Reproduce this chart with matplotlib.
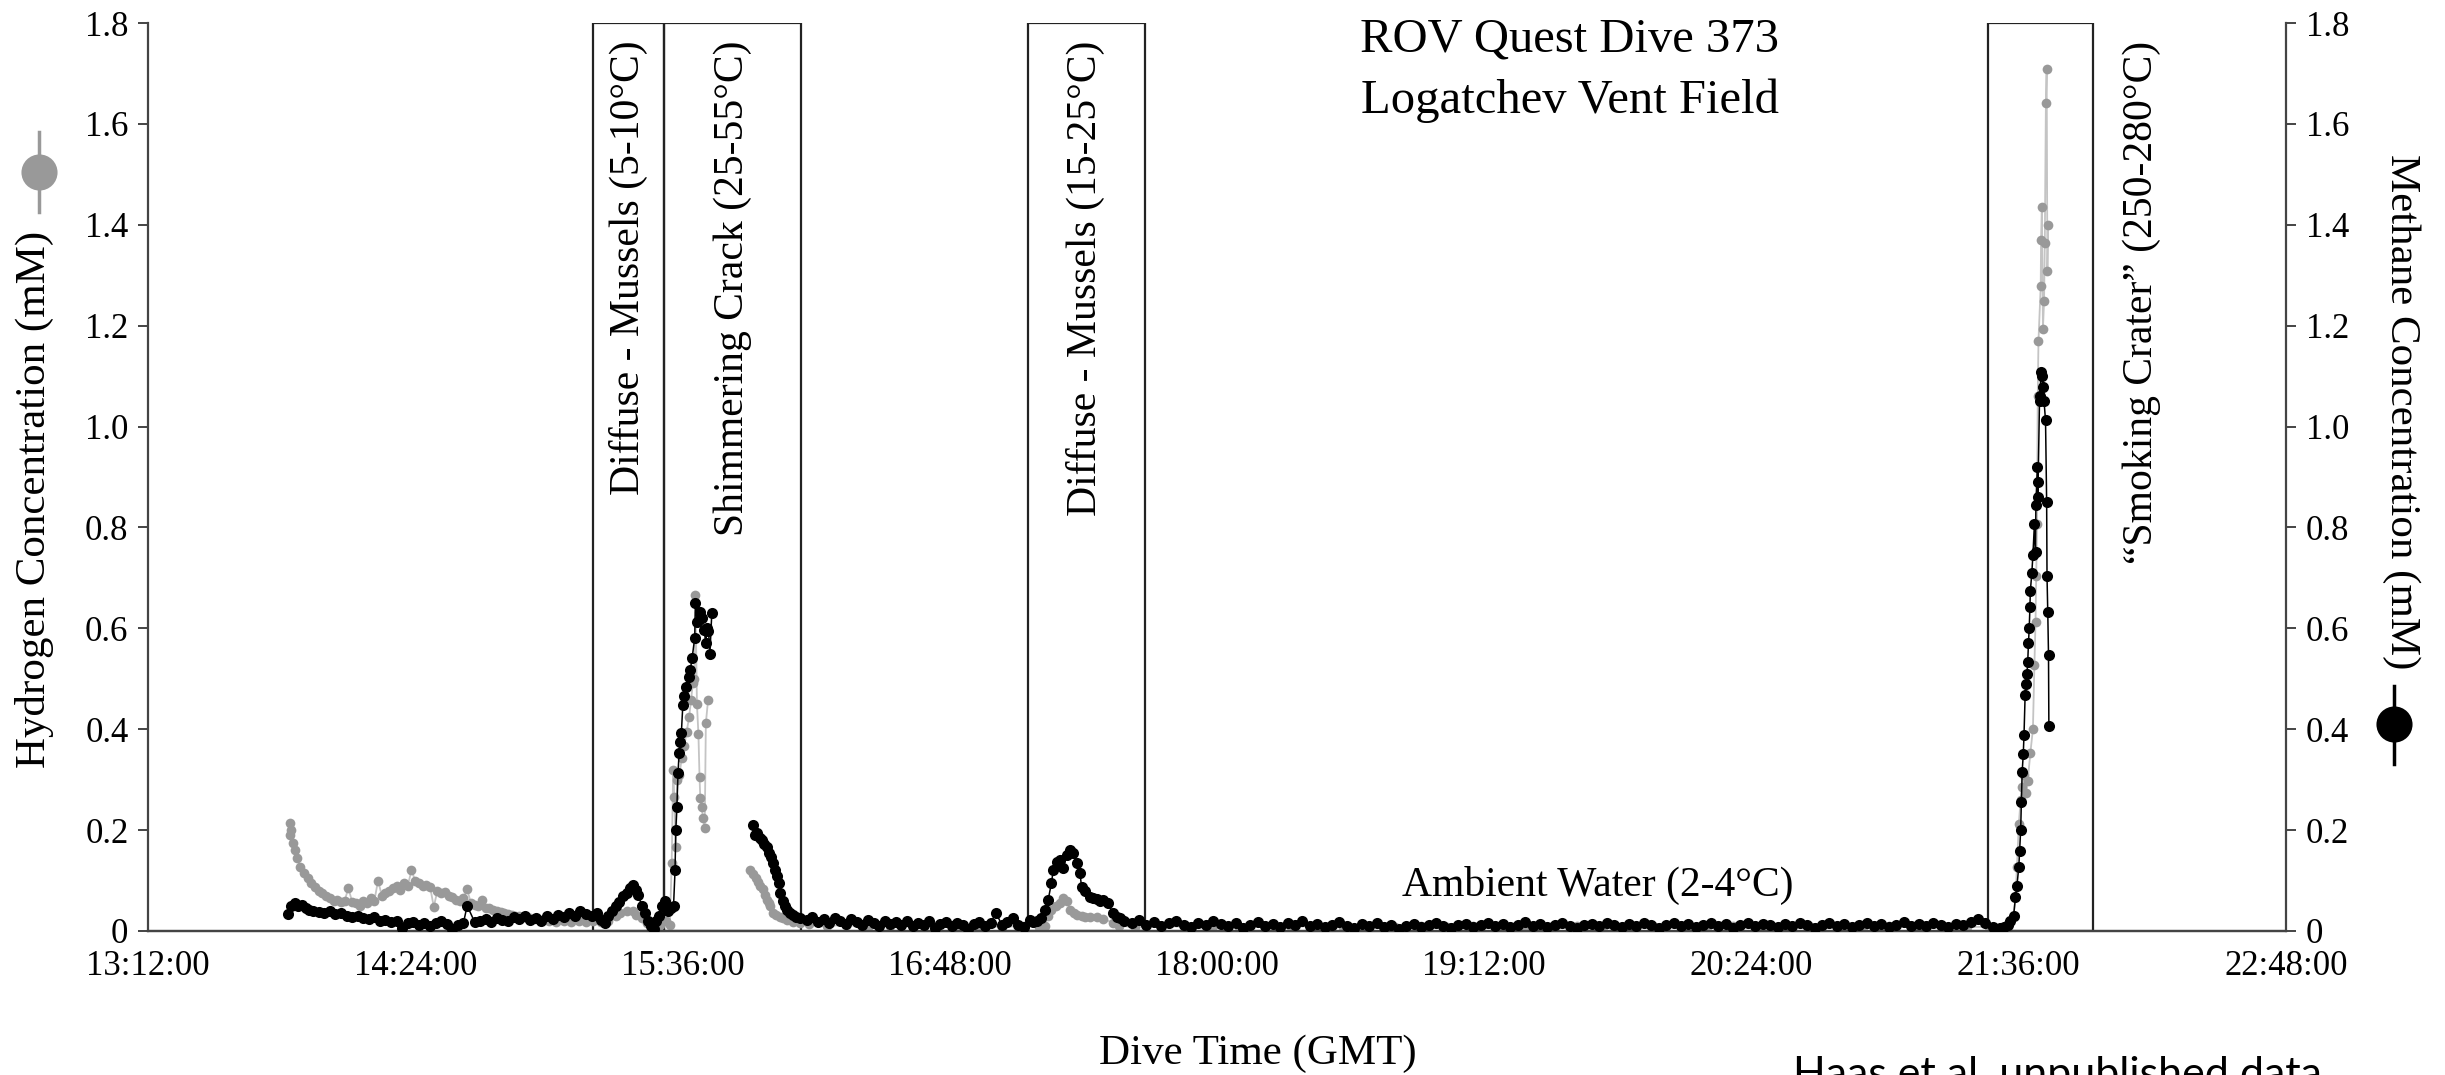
import numpy as np
import matplotlib.pyplot as plt
from matplotlib.patches import Rectangle
from matplotlib.lines import Line2D

plt.rcParams['font.family'] = ['Liberation Serif', 'DejaVu Serif']

# time in minutes after 13:00 GMT
tick_pos = [12, 84, 156, 228, 300, 372, 444, 516, 588]
tick_lbl = ['13:12:00', '14:24:00', '15:36:00', '16:48:00', '18:00:00',
            '19:12:00', '20:24:00', '21:36:00', '22:48:00']
y_ticks = [0, 0.2, 0.4, 0.6, 0.8, 1.0, 1.2, 1.4, 1.6, 1.8]
y_lbl = ['0', '0.2', '0.4', '0.6', '0.8', '1.0', '1.2', '1.4', '1.6', '1.8']

# sampled sites: (start, end, label)
zone_start = [132.0, 151.0, 249.0, 507.6]
zone_end = [151.0, 188.0, 280.5, 536.0]
zone_lbl = ['Diffuse - Mussels (5-10°C)', 'Shimmering Crack (25-55°C)',
            'Diffuse - Mussels (15-25°C)', '“Smoking Crater” (250-280°C)']
zone_lbl_x = [141.5, 169.5, 264.7, 549.2]

gap = np.nan  # no samples while the sensor was off

# hydrogen (grey, left axis)
h2_time = [50.2, 50.4, 50.6, 51.0, 51.5, 52.2, 53.0, 54.0, 55.0, 56.0, 57.0, 58.0, 59.0, 60.0,
           61.0, 62.0, 63.0, 64.0, 65.0, 66.0, 67.0, 68.0, 69.0, 70.0, 71.0, 72.0, 73.0, 74.0,
           75.0, 76.0, 77.0, 78.0, 79.0, 80.0, 81.0, 82.0, 83.0, 84.0, 85.0, 86.0, 87.0, 88.0,
           89.0, 90.0, 91.0, 92.0, 93.0, 94.0, 95.0, 96.0, 97.0, 98.0, 99.0, 100.0, 101.0, 102.0,
           103.0, 104.0, 105.0, 106.0, 107.0, 108.0, 109.0, 110.0, 111.0, 112.0, 113.0, 114.0,
           115.0, 116.0, 118.0, 120.0, 122.0, 124.0, 126.0, 128.0, 130.0, 132.0, 134.0, 136.0,
           138.0, 139.2, 141.0, 142.7, 143.5, 145.0, 146.5, 148.0, 150.0, 151.5, 152.6,
           153.1, 153.5, 153.8, 154.2, 154.6, 155.2, 155.8, 156.5, 157.1, 157.8, 158.3, 158.8,
           159.2, 159.5, 159.9, 160.3, 160.6, 160.8, 161.2, 161.5, 162.0, 162.3, 162.9, gap,
           174.2, 175.1, 175.7, 176.3, 177.0, 177.6, 178.2, 178.7, 179.2, 179.6, 180.4, 181.3,
           182.3, 183.2, 184.1, 185.8, 187.6,
           190, 195, 200, 206, 212, 218, 224, 230, 236, 242, 248, 252,
           253.6, 254.5, 255.4, 256.5, 257.7, 258.6, 259.5, 260.4, 261.5, 262.2, 263.5, 264.4,
           265.8, 267.6, 269.4, 272.0, 273.5,
           278, 285, 292, 299, 306, 313, 320, 327, 334, 341, 348, 355, 362, 369, 376, 383, 390,
           397, 404, 411, 418, 425, 432, 439, 446, 453, 460, 467, 474, 481, 488, 495, 502, 508,
           513.0, 514.6, 515.1, 515.5, 516.0, 516.5, 516.9, 517.4, 517.9, 518.4, 519.1, 519.8,
           520.2, 520.5, 520.7, 520.9, 521.1, 521.3, 521.9, 522.0, 522.2, 522.5, 522.8, 523.0,
           523.3, 523.5, 523.7, 523.9]
h2_mM = [0.19, 0.214, 0.2, 0.175, 0.16, 0.145, 0.127, 0.115, 0.105, 0.095, 0.087, 0.08, 0.075, 0.07,
         0.065, 0.06, 0.062, 0.058, 0.06, 0.085, 0.058, 0.055, 0.05, 0.06, 0.055, 0.065, 0.06, 0.1,
         0.07, 0.075, 0.08, 0.085, 0.09, 0.082, 0.095, 0.09, 0.12, 0.1, 0.095, 0.09, 0.092, 0.088,
         0.048, 0.08, 0.075, 0.078, 0.07, 0.068, 0.062, 0.06, 0.065, 0.083, 0.055, 0.052, 0.05, 0.062,
         0.045, 0.045, 0.042, 0.04, 0.038, 0.036, 0.034, 0.032, 0.03, 0.03, 0.028, 0.026,
         0.025, 0.024, 0.022, 0.02, 0.018, 0.02, 0.018, 0.02, 0.018, 0.02, 0.018, 0.02,
         0.03, 0.035, 0.04, 0.04, 0.032, 0.025, 0.015, 0.01, 0.012, 0.02, 0.012,
         0.135, 0.32, 0.266, 0.167, 0.3, 0.31, 0.343, 0.366, 0.394, 0.424, 0.458, 0.491,
         0.5, 0.667, 0.45, 0.39, 0.305, 0.264, 0.245, 0.224, 0.204, 0.412, 0.458, gap,
         0.121, 0.112, 0.104, 0.097, 0.09, 0.083, 0.072, 0.061, 0.055, 0.05, 0.035, 0.032,
         0.028, 0.025, 0.022, 0.018, 0.016,
         0.014, 0.01, 0.012, 0.008, 0.01, 0.008, 0.01, 0.008, 0.01, 0.008, 0.01, 0.008,
         0.01, 0.03, 0.042, 0.05, 0.055, 0.065, 0.06, 0.042, 0.035, 0.032, 0.03, 0.028,
         0.028, 0.028, 0.024, 0.016, 0.01,
         0.008, 0.01, 0.008, 0.01, 0.008, 0.01, 0.008, 0.01, 0.008, 0.01, 0.008, 0.01, 0.008,
         0.01, 0.008, 0.01, 0.008, 0.01, 0.008, 0.01, 0.008, 0.01, 0.008, 0.01, 0.008, 0.01,
         0.008, 0.01, 0.008, 0.01, 0.008, 0.01, 0.008, 0.008,
         0.01, 0.03, 0.067, 0.127, 0.212, 0.26, 0.285, 0.309, 0.273, 0.297, 0.352, 0.4,
         0.527, 0.612, 0.703, 0.806, 1.06, 1.17, 1.279, 1.37, 1.436, 1.194, 1.248, 1.364,
         1.642, 1.709, 1.309, 1.4]

# methane (black, right axis)
ch4_time = [49.8, 50.5, 51.5, 52.5, 53.5, 54.5, 55.5, 56.5, 58.0, 59.5, 61.0, 62.5, 64.0, 65.5,
            67.0, 68.5, 70.0, 71.5, 73.0, 74.5, 76.0, 77.5, 79.0, 80.5, 82.0, 83.5, 85.0, 86.5,
            88.0, 89.5, 91.0, 92.5, 94.0, 95.5, 97.0, 98.0, 100.0, 101.5, 103.0, 104.5, 106.0,
            107.5, 109.0, 110.5, 112.0, 113.5, 115.0, 116.5, 118.0, 119.5, 121.0, 122.5, 124.0,
            125.5, 127.0, 128.5, 130.0, 131.5, 133.0,
            134.0, 135.0, 136.0, 137.0, 138.0, 139.0, 140.0, 141.0, 142.0, 142.7, 143.5, 144.1,
            145.0, 145.8, 146.6, 147.4, 148.2, 149.0, 149.8, 150.6, 151.4, 152.2, 153.0, 153.6,
            154.0, 154.2, 154.5, 154.8, 155.1, 155.3, 155.7, 156.1, 156.5, 157.0, 157.7, 158.1,
            158.6, 159.3, 159.5, 160.0, 160.6, 161.2, 161.8, 162.3, 162.6, 163.0, 163.4, 163.9, gap,
            175.1, 175.6, 176.2, 176.9, 177.5, 178.1, 178.7, 179.3, 179.9, 180.4, 181.0, 181.5,
            182.0, 182.4, 183.0, 183.6, 184.1, 185.0, 185.8, 186.7, 187.6,
            189.5, 191, 192.5, 194, 195.5, 197, 198.5, 200, 201.5, 203, 204.5, 206, 207.5, 209,
            210.5, 212, 213.5, 215, 216.5, 218, 219.5, 221, 222.5, 224, 225.5, 227, 228.5, 230,
            231.5, 233, 234.5, 236, 237.5, 239, 240.5, 242, 243.5, 245, 246.5, 248,
            249.6, 250.5, 251.5, 252.5, 253.6, 254.5, 255.4, 255.9, 256.8, 257.7, 258.6, 259.5,
            260.4, 261.3, 262.2, 263.1, 263.5, 264.4, 265.8, 266.7, 267.6, 268.5, 269.4, 270.7,
            272.0, 273.0, 273.9,
            275, 277, 279, 281, 283, 285, 287, 289, 291, 293, 295, 297, 299, 301, 303, 305, 307,
            309, 311, 313, 315, 317, 319, 321, 323, 325, 327, 329, 331, 333, 335, 337, 339, 341,
            343, 345, 347, 349, 351, 353, 355, 357, 359, 361, 363, 365, 367, 369, 371, 373, 375,
            377, 379, 381, 383, 385, 387, 389, 391, 393, 395, 397, 399, 401, 403, 405, 407, 409,
            411, 413, 415, 417, 419, 421, 423, 425, 427, 429, 431, 433, 435, 437, 439, 441, 443,
            445, 447, 449, 451, 453, 455, 457, 459, 461, 463, 465, 467, 469, 471, 473, 475, 477,
            479, 481, 483, 485, 487, 489, 491, 493, 495, 497, 499, 501, 503, 505, 507, 509, 511,
            512,
            513.0, 513.7, 514.6, 515.1, 515.5, 516.0, 516.2, 516.5, 516.7, 516.9, 517.2, 517.4,
            517.7, 517.9, 518.2, 518.4, 518.6, 518.8, 519.0, 519.1, 519.5, 519.8, 520.2, 520.5,
            520.6, 521.0, 521.1, 521.2, 521.6, 521.8, 521.9, 522.3, 522.5, 522.8, 523.2, 523.5,
            523.6, 523.8, 524.0, 524.1]
ch4_mM = [0.034, 0.05, 0.055, 0.05, 0.052, 0.045, 0.042, 0.04, 0.038, 0.036, 0.04, 0.034, 0.035, 0.03,
          0.028, 0.03, 0.025, 0.024, 0.027, 0.02, 0.022, 0.018, 0.02, 0.006, 0.016, 0.018, 0.012, 0.015,
          0.01, 0.016, 0.02, 0.014, 0.004, 0.012, 0.016, 0.05, 0.018, 0.02, 0.024, 0.018, 0.026,
          0.022, 0.02, 0.028, 0.024, 0.03, 0.022, 0.026, 0.02, 0.03, 0.024, 0.032, 0.028,
          0.036, 0.03, 0.04, 0.034, 0.03, 0.036,
          0.022, 0.015, 0.03, 0.04, 0.05, 0.058, 0.07, 0.075, 0.085, 0.092, 0.082, 0.072,
          0.05, 0.035, 0.02, 0.01, 0.004, 0.02, 0.03, 0.05, 0.06, 0.04, 0.045, 0.05,
          0.12, 0.2, 0.246, 0.313, 0.353, 0.375, 0.392, 0.448, 0.466, 0.484, 0.504, 0.517,
          0.541, 0.581, 0.65, 0.613, 0.632, 0.62, 0.597, 0.571, 0.6, 0.595, 0.55, 0.63, gap,
          0.21, 0.19, 0.195, 0.185, 0.18, 0.172, 0.167, 0.155, 0.147, 0.134, 0.12, 0.108,
          0.095, 0.075, 0.06, 0.05, 0.042, 0.036, 0.032, 0.028, 0.026,
          0.022, 0.028, 0.018, 0.024, 0.016, 0.026, 0.02, 0.014, 0.024, 0.018, 0.012, 0.022, 0.016, 0.01,
          0.02, 0.014, 0.018, 0.012, 0.02, 0.01, 0.016, 0.012, 0.02, 0.006, 0.014, 0.018, 0.01, 0.016,
          0.012, 0.004, 0.014, 0.018, 0.01, 0.016, 0.036, 0.012, 0.018, 0.026, 0.012, 0.008,
          0.022, 0.018, 0.02, 0.025, 0.042, 0.061, 0.095, 0.121, 0.137, 0.14, 0.125, 0.15,
          0.161, 0.155, 0.135, 0.115, 0.087, 0.08, 0.067, 0.065, 0.063, 0.06, 0.062, 0.055,
          0.035, 0.028, 0.025,
          0.02, 0.016, 0.022, 0.012, 0.018, 0.01, 0.016, 0.02, 0.012, 0.008, 0.016, 0.012, 0.02, 0.014, 0.01, 0.016, 0.006,
          0.012, 0.018, 0.01, 0.014, 0.008, 0.016, 0.012, 0.02, 0.01, 0.014, 0.008, 0.012, 0.018, 0.01, 0.006, 0.014, 0.01,
          0.016, 0.008, 0.012, 0.004, 0.01, 0.014, 0.008, 0.012, 0.016, 0.01, 0.006, 0.012, 0.014, 0.008, 0.012, 0.016, 0.01,
          0.014, 0.008, 0.012, 0.018, 0.01, 0.014, 0.008, 0.012, 0.016, 0.01, 0.006, 0.012, 0.014, 0.01, 0.016, 0.012, 0.008,
          0.014, 0.01, 0.016, 0.012, 0.006, 0.012, 0.016, 0.01, 0.014, 0.008, 0.012, 0.016, 0.01, 0.014, 0.006, 0.012, 0.016,
          0.01, 0.014, 0.012, 0.008, 0.014, 0.01, 0.016, 0.012, 0.006, 0.012, 0.016, 0.01, 0.014, 0.008, 0.012, 0.016, 0.01,
          0.014, 0.008, 0.012, 0.018, 0.01, 0.014, 0.01, 0.016, 0.012, 0.008, 0.014, 0.012, 0.018, 0.024, 0.016, 0.008, 0.006,
          0.008,
          0.012, 0.02, 0.03, 0.067, 0.09, 0.127, 0.158, 0.2, 0.255, 0.315, 0.35, 0.388,
          0.467, 0.49, 0.51, 0.533, 0.57, 0.6, 0.642, 0.673, 0.709, 0.745, 0.806, 0.752,
          0.845, 0.92, 0.86, 0.89, 1.06, 1.05, 1.109, 1.1, 1.079, 1.05, 1.012, 0.85,
          0.703, 0.633, 0.548, 0.406]

fig = plt.figure(figsize=(24.45, 10.75), dpi=100)
ax = fig.add_axes([0.0605, 0.134, 0.8745, 0.8446])
ax2 = ax.twinx()

ax.plot(h2_time, h2_mM, '-', color='#c4c4c4', lw=1.3, zorder=3)
ax.plot(h2_time, h2_mM, 'o', color='#999999', ms=7, mew=0, zorder=4)
ax2.plot(ch4_time, ch4_mM, '-', color='black', lw=1.1, zorder=3)
ax2.plot(ch4_time, ch4_mM, 'o', color='black', ms=8, mew=0, zorder=4)

for s, e, lbl, lx in zip(zone_start, zone_end, zone_lbl, zone_lbl_x):
    ax.add_patch(Rectangle((s, 0), e - s, 1.8, fill=False, ec='#222222', lw=1.6, zorder=2))
    ax.text(lx, 1.765, lbl, rotation=90, ha='center', va='top', fontsize=30)

ax.text(402.6, 0.09, 'Ambient Water (2-4°C)', ha='center', va='center', fontsize=30)
ax.text(395, 1.768, 'ROV Quest Dive 373', ha='center', va='center', fontsize=35)
ax.text(395, 1.646, 'Logatchev Vent Field', ha='center', va='center', fontsize=35)

for a in (ax, ax2):
    a.set_xlim(12, 588)
    a.set_ylim(0, 1.8)
    a.set_yticks(y_ticks)
    a.set_yticklabels(y_lbl)
    a.spines['top'].set_visible(False)
    for sp in a.spines.values():
        sp.set_color('#444444')
        sp.set_linewidth(1.6)
    a.tick_params(axis='y', direction='out', length=7, width=1.4, color='#444444',
                  labelsize=25, pad=7)
ax.spines['right'].set_visible(False)
ax2.spines['left'].set_visible(False)
ax.set_xticks(tick_pos)
ax.set_xticklabels(tick_lbl)
ax.tick_params(axis='x', length=0, pad=14, labelsize=25)

fig.text(1258 / 2445, 1 - 1054 / 1075, 'Dive Time (GMT)', ha='center', va='center', fontsize=31)
fig.text(34 / 2445, 1 - 499 / 1075, 'Hydrogen Concentration (mM)', rotation=90,
         ha='center', va='center', fontsize=31)
fig.text(2401 / 2445, 1 - 412 / 1075, 'Methane Concentration (mM)', rotation=270,
         ha='center', va='center', fontsize=31)
fig.text(1793 / 2445, 1 - 1056 / 1075, 'Haas et al. unpublished data', ha='left', va='top',
         fontsize=31, family='Lato')

# series keys drawn next to the axis titles
fig.add_artist(Line2D([39 / 2445, 39 / 2445], [1 - 132 / 1075, 1 - 212 / 1075],
                      color='#999999', lw=2.5, transform=fig.transFigure))
fig.add_artist(Line2D([39 / 2445], [1 - 172 / 1075], marker='o', ms=26, mew=0,
                      color='#999999', transform=fig.transFigure))
fig.add_artist(Line2D([2394 / 2445, 2394 / 2445], [1 - 686 / 1075, 1 - 764 / 1075],
                      color='black', lw=2.5, transform=fig.transFigure))
fig.add_artist(Line2D([2394 / 2445], [1 - 724 / 1075], marker='o', ms=26, mew=0,
                      color='black', transform=fig.transFigure))

fig.savefig('out.png', dpi=100)
